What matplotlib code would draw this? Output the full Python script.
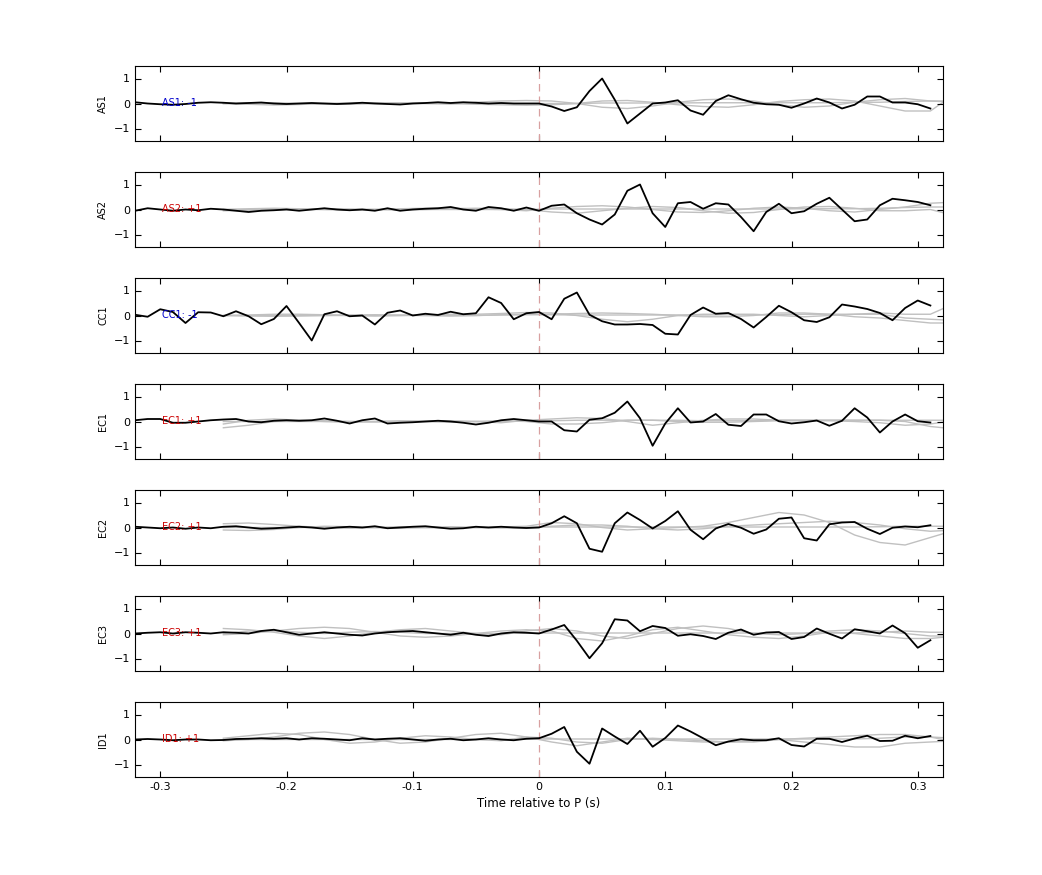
import numpy as np
import matplotlib
matplotlib.use("Agg")
import matplotlib.pyplot as plt

t = np.round(np.arange(-0.32, 0.315, 0.01), 2)  # 64 samples
stations = ["AS1", "AS2", "CC1", "EC1", "EC2", "EC3", "ID1"]
polarity = ["-1", "+1", "-1", "+1", "+1", "+1", "+1"]

AS1 = [0.05, 0.0, -0.03, -0.05, -0.02, 0.03, 0.05, 0.03, 0.0, 0.02, 0.04, 0.0, -0.02, 0.0, 0.02, 0.0,
       -0.02, 0.0, 0.03, 0.0, -0.02, -0.04, 0.0, 0.02, 0.05, 0.02, 0.05, 0.03, 0.0, 0.02, 0.0, 0.0,
       0.0, -0.12, -0.3, -0.15, 0.5, 1.0, 0.15, -0.8, -0.4, 0.0, 0.04, 0.13, -0.28, -0.45, 0.1, 0.33,
       0.17, 0.03, -0.03, -0.05, -0.17, 0.0, 0.2, 0.04, -0.2, -0.05, 0.28, 0.28, 0.04, 0.04, -0.03, -0.2]
AS2 = [-0.05, 0.05, 0.0, -0.05, 0.0, -0.03, 0.03, 0.0, -0.05, -0.1, -0.05, -0.03, 0.0, -0.05, 0.0, 0.05,
       0.0, -0.03, 0.0, -0.05, 0.05, -0.05, 0.0, 0.03, 0.05, 0.1, 0.0, -0.05, 0.1, 0.05, -0.05, 0.08,
       -0.05, 0.15, 0.2, -0.15, -0.4, -0.6, -0.2, 0.75, 1.0, -0.15, -0.7, 0.25, 0.3, 0.03, 0.25, 0.2,
       -0.3, -0.87, -0.1, 0.23, -0.15, -0.07, 0.23, 0.47, 0.0, -0.47, -0.4, 0.17, 0.43, 0.37, 0.3, 0.17]
CC1 = [0.03, -0.05, 0.25, 0.14, -0.3, 0.13, 0.12, -0.03, 0.17, -0.03, -0.35, -0.14, 0.38, -0.3, -1.0, 0.05,
       0.17, -0.03, 0.0, -0.36, 0.11, 0.2, 0.0, 0.07, 0.02, 0.15, 0.05, 0.09, 0.73, 0.5, -0.15, 0.09,
       0.14, -0.15, 0.67, 0.92, 0.03, -0.23, -0.36, -0.36, -0.34, -0.38, -0.73, -0.76, 0.02, 0.32, 0.07, 0.1,
       -0.14, -0.48, -0.06, 0.39, 0.13, -0.19, -0.26, -0.07, 0.44, 0.36, 0.26, 0.1, -0.19, 0.3, 0.6, 0.4]
EC1 = [0.05, 0.1, 0.1, -0.05, -0.05, 0.0, 0.05, 0.08, 0.1, 0.0, -0.03, 0.03, 0.05, 0.03, 0.05, 0.12,
       0.03, -0.08, 0.05, 0.12, -0.08, -0.05, -0.03, 0.0, 0.03, 0.0, -0.05, -0.12, -0.05, 0.05, 0.1, 0.05,
       0.0, 0.0, -0.35, -0.4, 0.07, 0.13, 0.35, 0.8, 0.13, -0.97, -0.08, 0.53, -0.04, 0.0, 0.3, -0.13,
       -0.18, 0.28, 0.28, 0.01, -0.08, -0.03, 0.04, -0.17, 0.03, 0.53, 0.16, -0.44, 0.0, 0.28, 0.01, -0.04]
EC2 = [0.03, 0.0, -0.03, 0.0, -0.05, 0.0, -0.03, 0.03, 0.05, 0.0, -0.05, -0.03, 0.0, 0.03, 0.0, -0.05,
       0.0, 0.03, 0.0, 0.05, -0.03, 0.0, 0.03, 0.05, 0.0, -0.05, -0.03, 0.03, 0.0, 0.03, 0.0, -0.02,
       0.0, 0.17, 0.45, 0.17, -0.85, -0.97, 0.17, 0.6, 0.3, -0.04, 0.26, 0.65, -0.09, -0.47, -0.04, 0.14,
       -0.01, -0.25, -0.08, 0.35, 0.4, -0.43, -0.52, 0.13, 0.2, 0.22, -0.05, -0.26, -0.01, 0.04, 0.01, 0.09]
EC3 = [0.0, 0.03, 0.05, 0.0, 0.05, 0.03, 0.0, 0.05, 0.03, 0.0, 0.1, 0.15, 0.05, -0.05, 0.0, 0.05,
       0.0, -0.05, -0.08, 0.0, 0.05, 0.08, 0.1, 0.05, 0.0, -0.05, 0.03, -0.05, -0.1, 0.0, 0.05, 0.03,
       0.0, 0.16, 0.34, -0.29, -0.99, -0.39, 0.57, 0.52, 0.09, 0.3, 0.22, -0.09, -0.03, -0.1, -0.22, 0.03,
       0.16, -0.05, 0.04, 0.06, -0.22, -0.14, 0.2, -0.01, -0.2, 0.17, 0.09, 0.0, 0.32, 0.01, -0.57, -0.27]
ID1 = [0.0, 0.02, 0.0, -0.03, 0.0, 0.0, -0.03, -0.02, 0.02, 0.03, 0.05, 0.03, 0.05, 0.0, 0.05, 0.03,
       0.0, -0.03, 0.05, 0.0, 0.03, 0.05, 0.0, -0.05, 0.0, 0.03, -0.03, 0.0, 0.05, 0.0, -0.03, 0.03,
       0.05, 0.23, 0.5, -0.49, -0.97, 0.44, 0.12, -0.18, 0.35, -0.29, 0.06, 0.56, 0.32, 0.05, -0.23, -0.08,
       0.01, -0.03, -0.03, 0.05, -0.22, -0.28, 0.03, 0.03, -0.1, 0.04, 0.15, -0.06, -0.05, 0.15, 0.05, 0.14]
traces = [AS1, AS2, CC1, EC1, EC2, EC3, ID1]

# grey synthetic traces, sampled every 0.02 s from -0.25 to 0.33
tg = np.round(np.arange(-0.25, 0.331, 0.02), 2)
G = {
 "AS1": [[0, -0.03, -0.06, -0.04, 0, 0.02, 0.03, 0.02, 0, -0.02, 0.05, 0.1, 0.12, 0.1, 0.0, -0.15, -0.2, -0.1, 0.05, 0.15, 0.18, 0.1, -0.05, -0.15, -0.1, 0.05, 0.15, 0.2, 0.1, 0.05],
         [0, 0.02, 0.03, 0, -0.02, -0.03, 0, 0.02, 0.03, 0, -0.03, -0.05, -0.07, -0.05, 0.0, 0.1, 0.12, 0.05, -0.05, -0.12, -0.15, -0.05, 0.08, 0.15, 0.18, 0.1, -0.1, -0.3, -0.3, 0.4],
         [0, 0, 0, 0, 0, 0, 0, 0, 0, 0, 0, 0, 0, 0, 0, 0.02, 0.02, 0.02, 0.02, 0.03, 0.03, 0.03, 0.03, 0.03, 0.03, 0.05, 0.05, 0.08, 0.1, 0.1]],
 "AS2": [[-0.05, -0.03, 0, 0.02, 0.03, 0.02, 0, 0.03, 0.05, 0.05, 0.02, 0, -0.05, 0.05, 0.12, 0.15, 0.1, 0.0, -0.1, -0.12, -0.05, 0.05, 0.1, 0.05, -0.05, -0.1, 0.0, 0.1, 0.25, 0.3],
         [0, 0.03, 0.05, 0.03, 0, -0.02, 0, -0.02, 0, 0.03, 0.05, 0.03, 0, -0.1, -0.15, -0.05, 0.05, 0.12, 0.08, -0.05, -0.15, -0.12, 0.0, 0.1, 0.12, 0.05, -0.05, -0.05, 0.0, -0.25],
         [0, 0, 0, 0, 0, 0, 0, 0, 0, 0, 0, 0, 0, 0.02, 0.02, 0.02, 0.02, 0.02, 0.02, 0.02, 0.02, 0.02, 0.02, 0.03, 0.03, 0.03, 0.05, 0.08, 0.1, 0.1]],
 "CC1": [[0, 0.02, 0.05, 0.05, 0.03, 0, -0.02, 0, 0.03, 0.05, 0.05, 0.08, 0.12, 0.1, 0.0, -0.15, -0.25, -0.15, 0.0, 0.05, 0.05, 0.05, 0.0, -0.05, 0.0, 0.05, 0.1, 0.05, 0.05, 0.5],
         [0, -0.02, -0.03, -0.02, 0, 0.02, 0.03, 0.02, 0, -0.02, 0, 0.03, 0.05, 0.05, 0.08, 0.1, 0.08, 0.05, 0.0, -0.05, -0.05, 0.0, 0.1, 0.1, 0.05, -0.05, -0.1, -0.2, -0.3, -0.3],
         [0, 0, 0, 0, 0, 0, 0, 0, 0, 0, 0, 0.02, 0.03, 0.03, 0.02, 0.02, 0.02, 0.02, 0.02, 0.02, 0.03, 0.03, 0.03, 0.05, 0.05, 0.05, 0.05, -0.1, -0.15, -0.2]],
 "EC1": [[-0.25, -0.15, 0, 0.05, 0.03, 0, -0.02, 0, 0.02, 0.03, 0, -0.05, 0.05, 0.1, 0.15, 0.12, 0.0, -0.15, -0.05, 0.05, 0.1, 0.1, 0.05, 0.05, 0.05, 0.05, 0.05, 0.0, -0.2, -0.3],
         [-0.1, 0.05, 0.1, 0.05, 0, -0.03, 0, 0.03, 0, -0.03, 0, 0.03, 0.0, -0.1, -0.1, -0.05, 0.05, 0.05, 0.0, -0.03, -0.03, 0.0, 0.03, 0.03, 0.03, 0.0, -0.05, -0.15, -0.1, 0.05],
         [0, 0, 0, 0, 0, 0, 0, 0, 0, 0, 0, 0, 0.02, 0.03, 0.05, 0.05, 0.05, 0.05, 0.05, 0.03, 0.03, 0.03, 0.05, 0.05, 0.05, 0.05, 0.05, 0.05, 0.05, 0.05]],
 "EC2": [[0.15, 0.18, 0.12, 0.05, 0, -0.03, 0, 0.03, 0, -0.02, 0, 0.02, 0.05, 0.2, 0.15, 0.0, -0.1, -0.05, 0.0, 0.05, 0.2, 0.4, 0.6, 0.5, 0.2, -0.3, -0.6, -0.7, -0.4, -0.1],
         [-0.1, -0.12, -0.08, 0, 0.05, 0.03, 0, -0.03, 0, 0.03, 0, -0.02, 0.0, 0.05, 0.1, 0.1, 0.05, -0.05, -0.1, -0.05, 0.05, 0.1, 0.15, 0.2, 0.25, 0.2, 0.1, -0.05, -0.15, -0.1],
         [0, 0, 0, 0, 0, 0, 0, 0, 0, 0, 0, 0, 0, 0.02, 0.02, 0.02, 0.02, 0.02, 0.02, 0.02, 0.02, 0.02, 0.02, 0.02, 0.02, 0.02, 0.03, 0.05, 0.05, 0.05]],
 "EC3": [[0.2, 0.15, 0.05, -0.1, -0.2, -0.1, 0.05, 0.15, 0.2, 0.1, 0, -0.05, 0.1, 0.2, 0.1, -0.1, -0.2, 0.0, 0.2, 0.3, 0.2, 0.0, -0.05, 0.0, 0.1, 0.15, 0.1, 0.0, -0.1, -0.1],
         [-0.05, 0, 0.1, 0.2, 0.25, 0.2, 0.05, -0.1, -0.15, -0.1, 0, 0.1, 0.15, 0.1, -0.2, -0.3, -0.1, 0.15, 0.25, 0.1, -0.05, -0.15, -0.2, -0.1, 0.05, 0.0, -0.1, -0.2, -0.2, -0.1],
         [0, 0.1, 0.12, 0.05, 0, 0.05, 0.08, 0.05, 0, 0, 0, 0, 0.02, 0.02, 0.02, 0.02, 0.02, 0.02, 0.02, 0.02, 0.02, 0.02, 0.02, 0.02, 0.02, 0.02, 0.05, 0.1, 0.05, 0.05]],
 "ID1": [[0.05, 0.15, 0.25, 0.2, 0.0, -0.15, -0.1, 0.05, 0.15, 0.1, 0.0, -0.05, 0.1, 0.05, -0.1, -0.15, 0.0, 0.05, 0.0, -0.05, -0.1, -0.1, 0.0, 0.05, 0.1, 0.15, 0.2, 0.2, 0.1, -0.1],
         [-0.05, 0, 0.1, 0.25, 0.3, 0.2, 0.0, -0.15, -0.1, 0.05, 0.2, 0.25, 0.1, -0.1, -0.25, -0.1, 0.05, 0.0, -0.05, -0.1, -0.1, -0.05, 0.0, -0.1, -0.2, -0.3, -0.3, -0.15, -0.1, -0.05],
         [0, 0, 0, 0, 0, 0, 0, 0, 0, 0, 0, 0, 0.02, 0.02, 0.02, 0.02, 0.02, 0.02, 0.02, 0.02, 0.02, 0.02, 0.02, 0.02, 0.02, 0.02, 0.05, 0.1, 0.1, 0.05]],
}

W, H = 1042, 875
fig = plt.figure(figsize=(W / 100, H / 100), dpi=100)
tops = [66, 172, 278, 384, 490, 596, 702]
ph = 75
for i, name in enumerate(stations):
    ax = fig.add_axes([135 / W, 1 - (tops[i] + ph) / H, (943 - 135) / W, ph / H])
    for g in G[name]:
        ax.plot(tg, g, color="#c0c0c0", lw=1.0, zorder=1)
    ax.axvline(0, color="#d8a0a0", lw=0.9, ls=(0, (6, 4)), zorder=2)
    ax.plot(t, traces[i], color="black", lw=1.3, zorder=3)
    col = "#0000cc" if polarity[i] == "-1" else "#cc0000"
    ax.text(-0.299, 0, f"{name}: {polarity[i]}", color=col, fontsize=7, va="center", ha="left", zorder=4)
    ax.set_xlim(-0.32, 0.32)
    ax.set_ylim(-1.5, 1.5)
    ax.set_yticks([-1, 0, 1])
    ax.set_xticks([-0.3, -0.2, -0.1, 0, 0.1, 0.2, 0.3])
    ax.tick_params(direction="in", top=True, right=True, labelsize=8, length=4)
    ax.set_ylabel(name, fontsize=7)
    if i < len(stations) - 1:
        ax.set_xticklabels([])
    else:
        ax.set_xticklabels(["-0.3", "-0.2", "-0.1", "0", "0.1", "0.2", "0.3"])
        ax.set_xlabel("Time relative to P (s)", fontsize=8.5)
fig.savefig("out.png", dpi=100)
